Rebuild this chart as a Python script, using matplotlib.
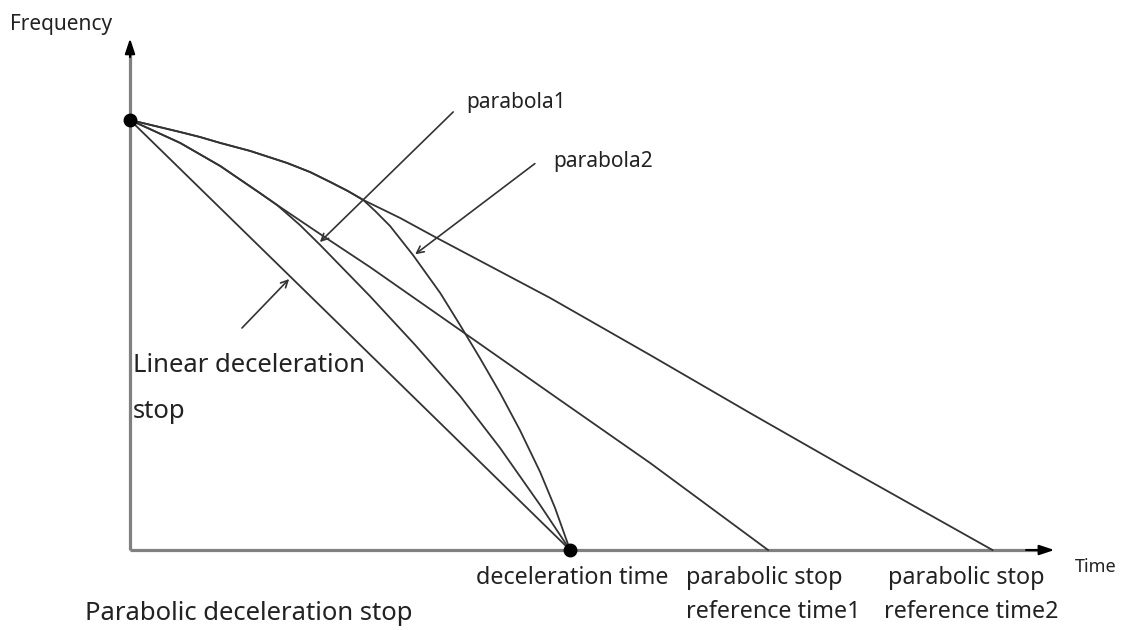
import matplotlib
matplotlib.use("Agg")
import matplotlib.pyplot as plt

plt.rcParams['font.family'] = ['Noto Sans', 'DejaVu Sans']

# time axis: deceleration time = 10, frequency axis: start frequency = 50
t_dec = 10.0
f_start = 50.0

# linear deceleration
lin_t = [0, t_dec]
lin_f = [f_start, 0]

# parabola 1 (ends at deceleration time)
p1_t = [0, 0.45, 1.14, 2.05, 2.95, 3.34, 3.86, 4.32, 5.45, 6.48, 7.50, 8.41, 9.32, 10.0]
p1_f = [50, 48.95, 47.33, 44.65, 41.51, 40.12, 37.79, 35.47, 29.53, 23.84, 17.91, 11.86, 5.23, 0]

# line towards reference time 1
r1_t = [0, 0.45, 1.14, 2.05, 2.95, 3.34, 4.32, 5.45, 7.50, 9.77, 11.82, 14.5]
r1_f = [50, 48.95, 47.33, 44.65, 41.51, 40.12, 36.74, 32.91, 25.58, 17.44, 10.12, 0]

# parabola 2 (ends at deceleration time)
p2_t = [0, 0.57, 1.14, 1.59, 2.05, 2.73, 3.57, 4.09, 4.55, 4.95, 5.30, 5.57, 5.91,
        6.43, 7.05, 7.50, 7.95, 8.41, 8.86, 9.32, 9.66, 10.0]
p2_f = [50, 49.30, 48.60, 48.02, 47.33, 46.40, 45.0, 43.95, 42.79, 41.74, 40.70, 39.42, 37.67,
        34.30, 29.88, 26.16, 22.33, 18.26, 13.95, 9.07, 4.88, 0]

# line towards reference time 2
r2_t = [0, 0.57, 1.14, 1.59, 2.05, 2.73, 3.57, 4.09, 4.55, 4.95, 5.30, 6.14, 6.93,
        9.55, 11.82, 14.09, 16.36, 19.6]
r2_f = [50, 49.30, 48.60, 48.02, 47.33, 46.40, 45.0, 43.95, 42.79, 41.74, 40.70, 38.60, 36.40,
        29.30, 22.67, 15.93, 9.30, 0]

fig = plt.figure(figsize=(11.28, 6.3), dpi=100)
ax = fig.add_axes([0, 0, 1, 1])
ax.set_xlim(-2.955, 22.68)
ax.set_ylim(-9.30, 63.95)
ax.axis('off')

line_col = '#333333'
axis_col = '#808080'

# axes with arrow heads
ax.plot([0, 0], [0, 58.5], color=axis_col, lw=2.3, solid_capstyle='butt', zorder=1)
ax.plot([0, 20.8], [0, 0], color=axis_col, lw=2.3, solid_capstyle='butt', zorder=1)
ax.annotate('', xy=(0, 59.8), xytext=(0, 57.0),
            arrowprops=dict(arrowstyle='-|>,head_length=0.9,head_width=0.3', color='black', lw=1.5))
ax.annotate('', xy=(21.07, 0), xytext=(20.3, 0),
            arrowprops=dict(arrowstyle='-|>,head_length=0.9,head_width=0.3', color='black', lw=1.5))

for tt, ff in [(lin_t, lin_f), (p1_t, p1_f), (r1_t, r1_f), (p2_t, p2_f), (r2_t, r2_f)]:
    ax.plot(tt, ff, color=line_col, lw=1.3, zorder=2, solid_joinstyle='round')

ax.plot([0, t_dec], [f_start, 0], 'o', color='black', markersize=9, zorder=3)

# pointer arrows
arrow_kw = dict(arrowstyle='->,head_length=0.5,head_width=0.25', color=line_col, lw=1.2)
ax.annotate('', xy=(4.27, 35.58), xytext=(7.39, 51.16), arrowprops=arrow_kw)
ax.annotate('', xy=(6.43, 34.19), xytext=(9.25, 45.12), arrowprops=arrow_kw)
ax.annotate('', xy=(3.66, 31.74), xytext=(2.5, 25.58), arrowprops=arrow_kw)

txt = '#222222'
ax.text(-2.73, 61.05, 'Frequency', fontsize=15, color=txt, va='center', ha='left')
ax.text(7.64, 51.98, 'parabola1', fontsize=15, color=txt, va='center', ha='left')
ax.text(9.61, 45.23, 'parabola2', fontsize=15, color=txt, va='center', ha='left')
ax.text(0.07, 21.51, 'Linear deceleration', fontsize=18.5, color=txt, va='center', ha='left')
ax.text(0.07, 16.05, 'stop', fontsize=18.5, color=txt, va='center', ha='left')
ax.text(7.86, -3.26, 'deceleration time', fontsize=16.8, color=txt, va='center', ha='left')
ax.text(12.64, -3.26, 'parabolic stop', fontsize=16.8, color=txt, va='center', ha='left')
ax.text(12.64, -7.21, 'reference time1', fontsize=16.8, color=txt, va='center', ha='left')
ax.text(17.23, -3.26, 'parabolic stop', fontsize=16.8, color=txt, va='center', ha='left')
ax.text(17.14, -7.21, 'reference time2', fontsize=16.8, color=txt, va='center', ha='left')
ax.text(21.48, -1.98, 'Time', fontsize=13, color=txt, va='center', ha='left')
ax.text(-1.02, -7.33, 'Parabolic deceleration stop', fontsize=18.5, color=txt, va='center', ha='left')

fig.savefig('out.png', dpi=100)
